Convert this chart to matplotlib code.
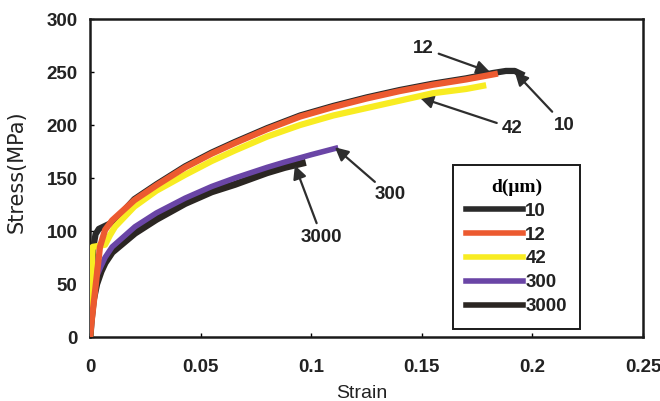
import numpy as np
import matplotlib.pyplot as plt

# grain size d (um) -> stress-strain curves
strain_10 = [0, 0.0008, 0.0015, 0.0025, 0.004, 0.006, 0.009, 0.013, 0.02, 0.03, 0.043, 0.055,
             0.0655, 0.08, 0.095, 0.11, 0.125, 0.14, 0.155, 0.17, 0.182, 0.188, 0.192, 0.195]
stress_10 = [0, 60, 85, 97, 102, 104, 107, 114, 130, 144, 161, 174,
             184, 197, 209, 218, 226, 233, 239, 244, 249, 251, 251, 248]

strain_12 = [0, 0.001, 0.002, 0.003, 0.0045, 0.0068, 0.01, 0.02, 0.03, 0.043, 0.055, 0.0655,
             0.08, 0.095, 0.11, 0.125, 0.14, 0.155, 0.17, 0.183]
stress_12 = [0, 20, 38, 57, 85, 101, 110, 129, 143, 160, 173, 183,
             196, 208, 217, 225, 232, 238, 243, 248]

strain_42 = [0, 0.0005, 0.0012, 0.004, 0.0068, 0.009, 0.0113, 0.02, 0.03, 0.043, 0.055, 0.0655,
             0.08, 0.095, 0.11, 0.125, 0.14, 0.155, 0.17, 0.1777]
stress_42 = [0, 50, 85, 86, 87, 96, 104, 123, 138, 153, 166, 176,
             189, 200, 209, 216, 223, 230, 234, 237]

strain_300 = [0, 0.0005, 0.0012, 0.0025, 0.005, 0.0068, 0.01, 0.0203, 0.03, 0.043, 0.055,
              0.0655, 0.08, 0.088, 0.1, 0.111]
stress_300 = [0, 20, 40, 55, 67, 75, 85, 104, 117, 131, 142,
              150, 160, 165, 172, 178]

strain_3000 = [0, 0.0005, 0.0015, 0.003, 0.005, 0.0068, 0.01, 0.0203, 0.03, 0.043, 0.055,
               0.0655, 0.08, 0.088, 0.096]
stress_3000 = [0, 15, 35, 50, 62, 70, 80, 98, 111, 126, 137,
               144, 155, 160, 164]

xticks = [0, 0.05, 0.1, 0.15, 0.2, 0.25]
xtick_labels = ['0', '0.05', '0.1', '0.15', '0.2', '0.25']
yticks = [0, 50, 100, 150, 200, 250, 300]

fig = plt.figure(figsize=(6.6, 4.01), dpi=100)
ax = fig.add_axes([0.1364, 0.1596, 0.8379, 0.793])

lw = 4.5
ax.plot(strain_3000, stress_3000, color='#2b2622', lw=lw + 0.6, label='3000', zorder=2)
ax.plot(strain_300, stress_300, color='#6a45a6', lw=lw - 0.5, label='300', zorder=3)
ax.plot(strain_10, stress_10, color='#2a2a2a', lw=lw, label='10', zorder=4)
ax.plot(strain_12, stress_12, color='#ec5a30', lw=lw, label='12', zorder=5)
ax.plot(strain_42, stress_42, color='#f8ec22', lw=lw, label='42', zorder=4.5)

ax.set_xlim(0, 0.25)
ax.set_ylim(0, 300)
ax.set_xticks(xticks)
ax.set_xticklabels(xtick_labels)
ax.set_yticks(yticks)
ax.tick_params(direction='in', length=3, width=1, labelsize=13.5)
ax.tick_params(axis='x', pad=16)
ax.tick_params(axis='y', pad=9)
for lab in ax.get_xticklabels() + ax.get_yticklabels():
    lab.set_fontfamily('Liberation Sans')
    lab.set_fontweight('bold')
    lab.set_color('#222222')
for sp in ax.spines.values():
    sp.set_linewidth(1.8)
    sp.set_color('#1a1a1a')

ax.set_xlabel('Strain', fontsize=14, family='Liberation Sans', color='#222222', va='top')
ax.xaxis.set_label_coords(0.492, -0.151)
ax.set_ylabel('Stress(MPa)', fontsize=15, family='DejaVu Sans', color='#222222', va='center')
ax.yaxis.set_label_coords(-0.132, 0.52)

# arrows with labels
arrow = dict(arrowstyle='-|>', color='#2e2e2e', lw=1.6, mutation_scale=20, shrinkA=2, shrinkB=0)
txt = dict(fontsize=13.5, family='Liberation Sans', fontweight='bold', color='#222222',
           ha='center', va='center')
ax.annotate('12', xy=(0.1808, 250), xytext=(0.1505, 272.6), arrowprops=arrow, **txt)
ax.annotate('10', xy=(0.192, 250), xytext=(0.2146, 200), arrowprops=arrow, **txt)
ax.annotate('42', xy=(0.149, 226), xytext=(0.191, 197), arrowprops=arrow, **txt)
ax.annotate('300', xy=(0.1107, 179), xytext=(0.1356, 134), arrowprops=arrow, **txt)
ax.annotate('3000', xy=(0.0926, 162), xytext=(0.1048, 94.3), arrowprops=arrow, **txt)

handles, labels = ax.get_legend_handles_labels()
order = ['10', '12', '42', '300', '3000']
hmap = dict(zip(labels, handles))
leg = ax.legend([hmap[k] for k in order], order, loc='upper left',
                bbox_to_anchor=(0.656, 0.541), fancybox=False, framealpha=1,
                edgecolor='#1a1a1a', handlelength=3.0, handletextpad=0.15,
                labelspacing=0.36, borderpad=0.72, borderaxespad=0,
                prop=dict(family='Liberation Sans', weight='bold', size=13.5),
                title='d(μm)',
                title_fontproperties=dict(family='Liberation Serif', weight='bold', size=14))
leg.get_frame().set_linewidth(1.4)
for t in leg.get_texts():
    t.set_color('#222222')
for h in leg.legend_handles:
    h.set_linewidth(4)

fig.savefig('out.png', dpi=100)
